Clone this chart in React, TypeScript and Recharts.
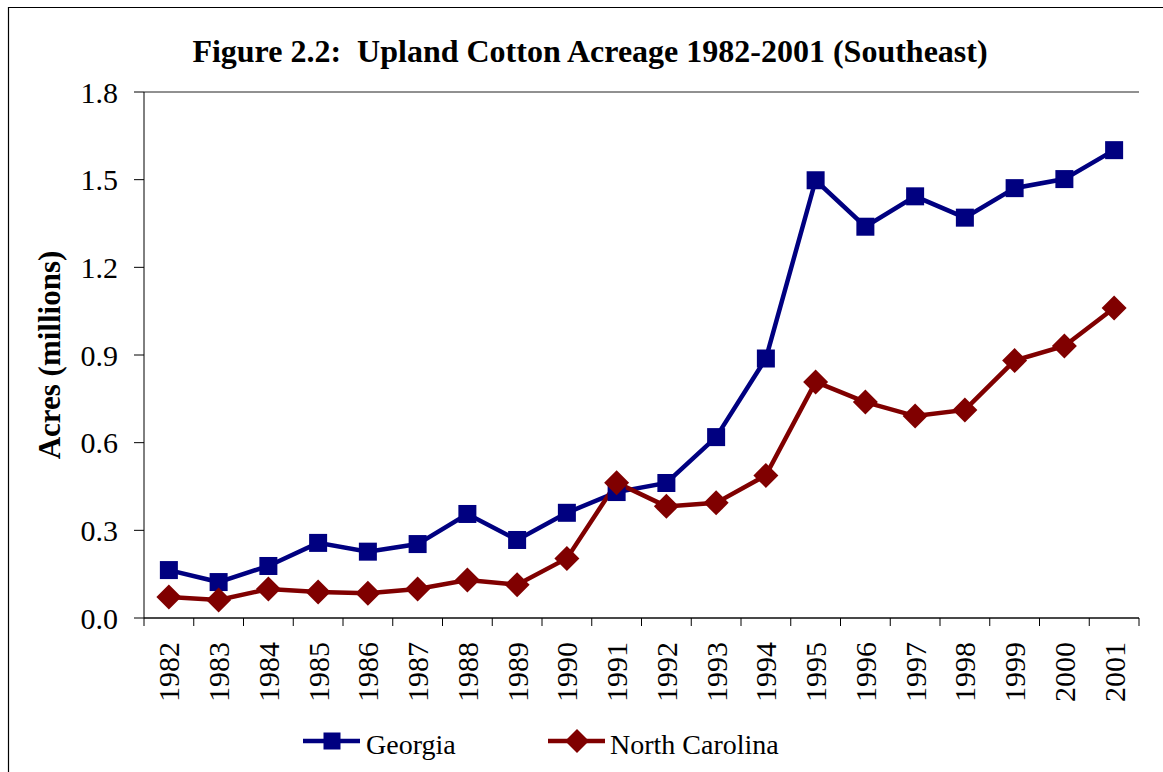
import React from "react";
import { CartesianGrid, Label, Line, LineChart, XAxis, YAxis } from "recharts";

const YEARS = [
  "1982", "1983", "1984", "1985", "1986", "1987", "1988", "1989", "1990", "1991",
  "1992", "1993", "1994", "1995", "1996", "1997", "1998", "1999", "2000", "2001"
];

const GEORGIA = [
  0.164, 0.123, 0.178, 0.257, 0.227, 0.253, 0.356, 0.267, 0.36, 0.431,
  0.462, 0.619, 0.888, 1.498, 1.339, 1.443, 1.37, 1.471, 1.502, 1.601
];

const NORTH_CAROLINA = [
  0.072, 0.062, 0.099, 0.089, 0.085, 0.099, 0.13, 0.114, 0.204, 0.463,
  0.382, 0.394, 0.488, 0.808, 0.739, 0.691, 0.712, 0.881, 0.931, 1.061
];

const Y_TICKS = [0, 0.3, 0.6, 0.9, 1.2, 1.5, 1.8];

const data = YEARS.map((year, i) => ({
  year,
  georgia: GEORGIA[i],
  northCarolina: NORTH_CAROLINA[i]
}));

const FONT = "'Times New Roman', 'Liberation Serif', serif";
const NAVY = "#000080";
const MAROON = "#800000";

const W = 1163;
const H = 772;
const PLOT_LEFT = 144;
const PLOT_RIGHT = 1139;
const PLOT_TOP = 92;
const PLOT_BOTTOM = 618;
const BAND = (PLOT_RIGHT - PLOT_LEFT) / YEARS.length;

function YearTick(props: any) {
  const { x, y, payload, index } = props;
  const last = index === YEARS.length - 1;
  return (
    <g>
      <line x1={x - BAND / 2} x2={x - BAND / 2} y1={y} y2={y + 8} stroke="#000" />
      {last && <line x1={x + BAND / 2} x2={x + BAND / 2} y1={y} y2={y + 8} stroke="#000" />}
      <text
        x={x}
        y={y + 24}
        transform={`rotate(-90, ${x}, ${y + 24})`}
        textAnchor="end"
        dominantBaseline="central"
        fontFamily={FONT}
        fontSize={30}
        fill="#000"
      >
        {payload.value}
      </text>
    </g>
  );
}

function SquareDot(props: any) {
  const { cx, cy, index } = props;
  return <rect key={`g-${index}`} x={cx - 9} y={cy - 9} width={18} height={18} fill={NAVY} />;
}

function DiamondDot(props: any) {
  const { cx, cy, index } = props;
  const r = 12.5;
  return (
    <polygon
      key={`nc-${index}`}
      points={`${cx},${cy - r} ${cx + r},${cy} ${cx},${cy + r} ${cx - r},${cy}`}
      fill={MAROON}
    />
  );
}

function YLabel(props: any) {
  const vb = props.viewBox || { x: 0, y: PLOT_TOP, height: PLOT_BOTTOM - PLOT_TOP };
  const x = vb.x + 49;
  const y = vb.y + vb.height / 2;
  return (
    <text
      x={x}
      y={y}
      transform={`rotate(-90, ${x}, ${y})`}
      textAnchor="middle"
      dominantBaseline="central"
      fontFamily={FONT}
      fontWeight="bold"
      fontSize={31}
      fill="#000"
    >
      Acres (millions)
    </text>
  );
}

export default function App() {
  return (
    <div style={{ position: "absolute", left: 0, top: 0, width: W, height: H, background: "#fff" }}>
      <LineChart
        width={W}
        height={H}
        data={data}
        margin={{ top: PLOT_TOP, right: W - PLOT_RIGHT, bottom: 0, left: 0 }}
      >
        <CartesianGrid vertical={false} stroke="#222" strokeWidth={1} />
        <XAxis
          dataKey="year"
          scale="band"
          interval={0}
          height={H - PLOT_BOTTOM}
          tickLine={false}
          tickSize={0}
          tickMargin={0}
          axisLine={{ stroke: "#000" }}
          tick={<YearTick />}
        />
        <YAxis
          yAxisId="left"
          width={PLOT_LEFT}
          domain={[0, 1.8]}
          ticks={Y_TICKS}
          interval={0}
          tickFormatter={(v: number) => v.toFixed(1)}
          tickSize={10}
          tickMargin={16}
          tickLine={{ stroke: "#000" }}
          axisLine={{ stroke: "#000" }}
          tick={{ fill: "#000", fontSize: 30, fontFamily: FONT }}
        >
          <Label content={<YLabel />} />
        </YAxis>
        <YAxis
          yAxisId="right"
          orientation="right"
          width={0}
          domain={[0, 1.8]}
          tick={false}
          tickLine={false}
          axisLine={{ stroke: "#808080" }}
        />
        <Line
          yAxisId="left"
          type="linear"
          dataKey="georgia"
          name="Georgia"
          stroke={NAVY}
          strokeWidth={4.5}
          dot={<SquareDot />}
          activeDot={false}
          isAnimationActive={false}
        />
        <Line
          yAxisId="left"
          type="linear"
          dataKey="northCarolina"
          name="North Carolina"
          stroke={MAROON}
          strokeWidth={4.5}
          dot={<DiamondDot />}
          activeDot={false}
          isAnimationActive={false}
        />
      </LineChart>
      <svg
        width={W}
        height={H}
        style={{ position: "absolute", left: 0, top: 0, pointerEvents: "none" }}
      >
        <path d={`M8.5 ${H} L8.5 7.5 L${W} 7.5`} fill="none" stroke="#000" strokeWidth={1.2} />
        <text
          x={590}
          y={62}
          textAnchor="middle"
          fontFamily={FONT}
          fontWeight="bold"
          fontSize={32}
          fill="#000"
          style={{ whiteSpace: "pre" }}
        >
          {"Figure 2.2:  Upland Cotton Acreage 1982-2001 (Southeast)"}
        </text>
        <g>
          <line x1={303} x2={360} y1={741} y2={741} stroke={NAVY} strokeWidth={4.5} />
          <rect x={332 - 8.5} y={741 - 8.5} width={17} height={17} fill={NAVY} />
          <text x={366} y={754} fontFamily={FONT} fontSize={28} fill="#000">
            Georgia
          </text>
        </g>
        <g>
          <line x1={548} x2={605} y1={741} y2={741} stroke={MAROON} strokeWidth={4.5} />
          <polygon points="577,729 589,741 577,753 565,741" fill={MAROON} />
          <text x={610} y={754} fontFamily={FONT} fontSize={28} fill="#000">
            North Carolina
          </text>
        </g>
      </svg>
    </div>
  );
}
